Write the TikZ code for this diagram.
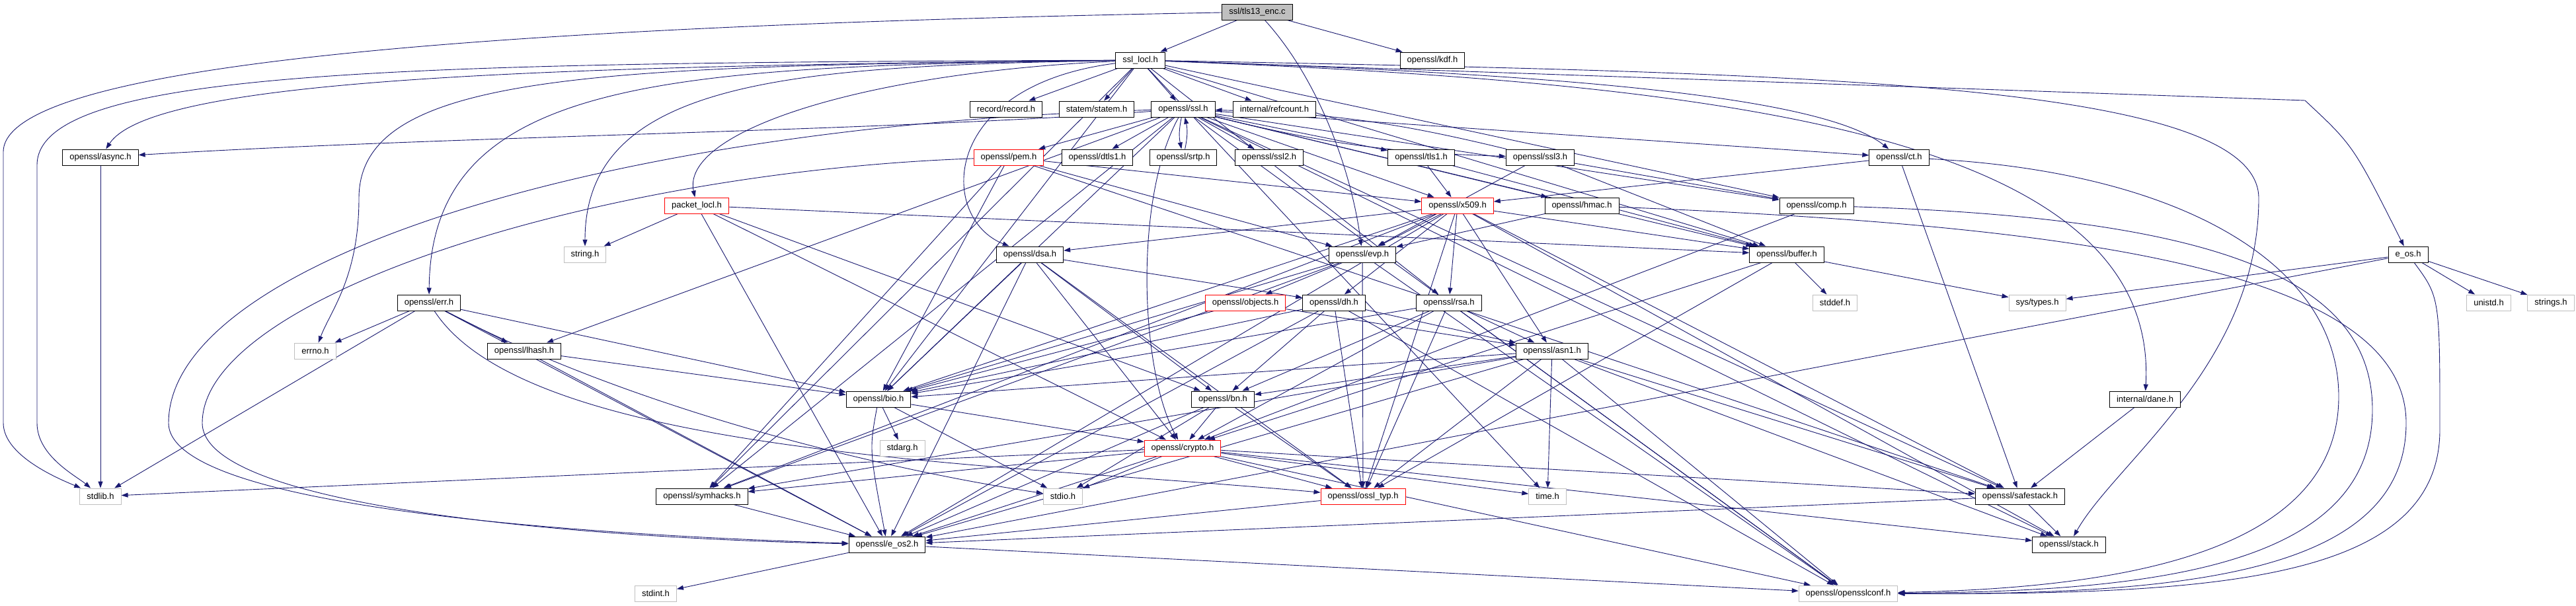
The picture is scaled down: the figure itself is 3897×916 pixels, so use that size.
\documentclass[tikz,border=0pt]{standalone}
\usepackage{fontspec}
\setmainfont{Liberation Sans}
\usepackage{xcolor}
\usepackage{tikz}
\usetikzlibrary{arrows.meta,backgrounds}
\definecolor{EdgeBlue}{HTML}{191970}
\definecolor{SysGray}{HTML}{BFBFBF}
\definecolor{SrcGray}{HTML}{BFBFBF}
\definecolor{CutRed}{HTML}{FF0000}

\begin{document}
\begin{tikzpicture}[
  x=1pt, y=-1pt,
  hdrbox/.style={
    draw=black,
    fill=white,
    line width=1pt,
    minimum height=24pt,
    inner xsep=10.5pt,
    inner ysep=2pt,
    font=\fontsize{13}{15}\selectfont
  },
  cutbox/.style={hdrbox, draw=CutRed},
  sysbox/.style={hdrbox, draw=SysGray},
  srcbox/.style={hdrbox, fill=SrcGray},
  incl/.style={-{Triangle[length=10pt,width=7pt]}, line width=0.9pt, draw=EdgeBlue}
]
\useasboundingbox (0,0) rectangle (3897,916);
\node[srcbox] (tls) at (1902,18) {ssl/tls13\_enc.c};
\node[hdrbox] (locl) at (1725,91) {ssl\_locl.h};
\node[hdrbox] (kdf) at (2167,91) {openssl/kdf.h};
\node[hdrbox] (rec) at (1522,165) {record/record.h};
\node[hdrbox] (stm) at (1659,165) {statem/statem.h};
\node[hdrbox] (ssl) at (1790,165) {openssl/ssl.h};
\node[hdrbox] (refc) at (1928,165) {internal/refcount.h};
\node[hdrbox] (async) at (152,238) {openssl/async.h};
\node[cutbox] (pem) at (1526,238) {openssl/pem.h};
\node[hdrbox] (dtls) at (1660,238) {openssl/dtls1.h};
\node[hdrbox] (srtp) at (1790,238) {openssl/srtp.h};
\node[hdrbox] (sslii) at (1920,238) {openssl/ssl2.h};
\node[hdrbox] (tlsi) at (2150,238) {openssl/tls1.h};
\node[hdrbox] (sslv3) at (2330,238) {openssl/ssl3.h};
\node[hdrbox] (ct) at (2873,238) {openssl/ct.h};
\node[cutbox] (pkt) at (1054,311) {packet\_locl.h};
\node[cutbox] (xcert) at (2205,311) {openssl/x509.h};
\node[hdrbox] (hmac) at (2393,311) {openssl/hmac.h};
\node[hdrbox] (comp) at (2748,311) {openssl/comp.h};
\node[sysbox] (str) at (885,385) {string.h};
\node[hdrbox] (dsa) at (1558,385) {openssl/dsa.h};
\node[hdrbox] (evp) at (2061,385) {openssl/evp.h};
\node[hdrbox] (buf) at (2703,385) {openssl/buffer.h};
\node[hdrbox] (eos) at (3643,385) {e\_os.h};
\node[hdrbox] (err) at (649,458) {openssl/err.h};
\node[cutbox] (obj) at (1884,458) {openssl/objects.h};
\node[hdrbox] (dh) at (2018,458) {openssl/dh.h};
\node[hdrbox] (rsa) at (2192,458) {openssl/rsa.h};
\node[sysbox] (stddef) at (2776,458) {stddef.h};
\node[sysbox] (systy) at (3082,458) {sys/types.h};
\node[sysbox] (unistd) at (3765,458) {unistd.h};
\node[sysbox] (strs) at (3859,458) {strings.h};
\node[sysbox] (errno) at (477,531) {errno.h};
\node[hdrbox] (lhash) at (793,531) {openssl/lhash.h};
\node[hdrbox] (asn) at (2348,531) {openssl/asn1.h};
\node[hdrbox] (bio) at (1329,604) {openssl/bio.h};
\node[hdrbox] (bn) at (1850,604) {openssl/bn.h};
\node[hdrbox] (dane) at (3245,604) {internal/dane.h};
\node[sysbox] (stdarg) at (1365,678) {stdarg.h};
\node[cutbox] (crypto) at (1789,678) {openssl/crypto.h};
\node[sysbox] (stdlib) at (152,751) {stdlib.h};
\node[hdrbox] (symh) at (1062,751) {openssl/symhacks.h};
\node[sysbox] (stdio) at (1608,751) {stdio.h};
\node[cutbox] (otyp) at (2062,751) {openssl/ossl\_typ.h};
\node[sysbox] (time) at (2341,751) {time.h};
\node[hdrbox] (safe) at (3056,751) {openssl/safestack.h};
\node[hdrbox] (eostwo) at (1342,824) {openssl/e\_os2.h};
\node[hdrbox] (stack) at (3130,824) {openssl/stack.h};
\node[sysbox] (stdint) at (992,898) {stdint.h};
\node[sysbox] (conf) at (2796,898) {openssl/opensslconf.h};
\begin{scope}[on background layer]
\fill[white] (0,0) rectangle (3897,916);
\draw[incl] (tls) -- (locl);
\draw[incl] (tls) -- (kdf);
\draw[incl] (tls) .. controls (1995,120) and (2045,260) .. (evp);
\draw[incl] (tls) .. controls (700,40) and (5,100) .. (5,230) -- (5,640) .. controls (5,690) and (90,725) .. (stdlib);
\draw[incl] (locl) -- (rec);
\draw[incl] (locl) -- (stm);
\draw[incl] (locl) -- (ssl);
\draw[incl] (locl) -- (refc);
\draw[incl] (locl) .. controls (800,100) and (230,120) .. (async);
\draw[incl] (locl) .. controls (600,95) and (56,105) .. (56,250) -- (56,640) .. controls (56,690) and (115,720) .. (stdlib);
\draw[incl] (locl) .. controls (900,100) and (543,110) .. (543,300) .. controls (543,420) and (500,470) .. (errno);
\draw[incl] (locl) .. controls (1000,100) and (652,120) .. (err);
\draw[incl] (locl) .. controls (1200,100) and (885,120) .. (str);
\draw[incl] (locl) .. controls (1300,110) and (1030,200) .. (pkt);
\draw[incl] (locl) -- (bio);
\draw[incl] (locl) -- (symh);
\draw[incl] (locl) .. controls (1420,130) and (1420,330) .. (dsa);
\draw[incl] (locl) -- (rsa);
\draw[incl] (locl) -- (time);
\draw[incl] (locl) -- (buf);
\draw[incl] (locl) -- (comp);
\draw[incl] (locl) .. controls (2300,110) and (2750,140) .. (ct);
\draw[incl] (locl) .. controls (2700,110) and (3417,120) .. (3417,300) .. controls (3417,550) and (3200,700) .. (stack);
\draw[incl] (locl) -- (3487,152) .. controls (3560,220) .. (eos);
\draw[incl] (locl) .. controls (2600,125) and (3267,200) .. (dane);
\draw[incl] (ssl) .. controls (900,190) and (255,400) .. (255,640) .. controls (255,770) and (900,810) .. (eostwo);
\draw[incl] (ssl) -- (conf);
\draw[incl] (ssl) -- (comp);
\draw[incl] (ssl) -- (bio);
\draw[incl] (ssl) -- (xcert);
\draw[incl] (ssl) -- (stack);
\draw[incl] (ssl) -- (lhash);
\draw[incl] (ssl) -- (pem);
\draw[incl] (ssl) -- (hmac);
\draw[incl] (ssl) .. controls (1300,200) and (700,205) .. (async);
\draw[incl] (ssl) -- (safe);
\draw[incl] (ssl) -- (symh);
\draw[incl] (ssl) -- (ct);
\draw[incl] (ssl) -- (sslii);
\draw[incl] (ssl) to[bend right=6] (sslv3);
\draw[incl] (ssl) -- (tlsi);
\draw[incl] (ssl) -- (dtls);
\draw[incl] (ssl) to[bend right=12] (srtp);
\draw[incl] (ssl) -- (buf);
\draw[incl] (ssl) .. controls (1715,300) and (1725,560) .. (crypto);
\draw[incl] (srtp) to[bend right=12] (ssl);
\draw[incl] (sslv3) to[bend right=6] (ssl);
\draw[incl] (sslv3) -- (comp);
\draw[incl] (sslv3) -- (buf);
\draw[incl] (sslv3) -- (evp);
\draw[incl] (tlsi) -- (buf);
\draw[incl] (tlsi) -- (xcert);
\draw[incl] (pem) .. controls (900,260) and (306,450) .. (306,640) .. controls (306,770) and (900,815) .. (eostwo);
\draw[incl] (pem) -- (bio);
\draw[incl] (pem) -- (safe);
\draw[incl] (pem) -- (evp);
\draw[incl] (pem) -- (xcert);
\draw[incl] (pem) -- (symh);
\draw[incl] (ct) -- (xcert);
\draw[incl] (ct) -- (safe);
\draw[incl] (ct) .. controls (3300,260) and (3538,400) .. (3538,600) .. controls (3538,840) and (3200,890) .. (conf);
\draw[incl] (comp) -- (crypto);
\draw[incl] (comp) .. controls (3350,330) and (3589,420) .. (3589,620) .. controls (3589,860) and (3250,895) .. (conf);
\draw[incl] (hmac) -- (evp);
\draw[incl] (hmac) .. controls (3100,340) and (3640,400) .. (3640,640) .. controls (3640,870) and (3300,900) .. (conf);
\draw[incl] (eos) -- (systy);
\draw[incl] (eos) -- (unistd);
\draw[incl] (eos) -- (strs);
\draw[incl] (eos) -- (eostwo);
\draw[incl] (eos) .. controls (3691,450) .. (3691,650) .. controls (3691,880) and (3350,900) .. (conf);
\draw[incl] (pkt) -- (str);
\draw[incl] (pkt) -- (bn);
\draw[incl] (pkt) -- (buf);
\draw[incl] (pkt) -- (crypto);
\draw[incl] (pkt) -- (eostwo);
\draw[incl] (xcert) -- (eostwo);
\draw[incl] (xcert) -- (otyp);
\draw[incl] (xcert) -- (symh);
\draw[incl] (xcert) -- (buf);
\draw[incl] (xcert) -- (evp);
\draw[incl] (xcert) -- (bio);
\draw[incl] (xcert) -- (stack);
\draw[incl] (xcert) -- (asn);
\draw[incl] (xcert) -- (safe);
\draw[incl] (xcert) -- (rsa);
\draw[incl] (xcert) -- (dsa);
\draw[incl] (xcert) -- (dh);
\draw[incl] (evp) -- (conf);
\draw[incl] (evp) -- (otyp);
\draw[incl] (evp) -- (symh);
\draw[incl] (evp) -- (bio);
\draw[incl] (evp) -- (obj);
\draw[incl] (dsa) -- (eostwo);
\draw[incl] (dsa) -- (bio);
\draw[incl] (dsa) -- (crypto);
\draw[incl] (dsa) -- (otyp);
\draw[incl] (dsa) -- (bn);
\draw[incl] (dsa) -- (dh);
\draw[incl] (dh) -- (eostwo);
\draw[incl] (dh) -- (bio);
\draw[incl] (dh) -- (asn);
\draw[incl] (dh) -- (otyp);
\draw[incl] (dh) -- (bn);
\draw[incl] (dh) -- (conf);
\draw[incl] (rsa) -- (conf);
\draw[incl] (rsa) -- (asn);
\draw[incl] (rsa) -- (bio);
\draw[incl] (rsa) -- (crypto);
\draw[incl] (rsa) -- (otyp);
\draw[incl] (rsa) -- (bn);
\draw[incl] (obj) -- (bio);
\draw[incl] (obj) -- (asn);
\draw[incl] (asn) -- (time);
\draw[incl] (asn) -- (eostwo);
\draw[incl] (asn) -- (conf);
\draw[incl] (asn) -- (bio);
\draw[incl] (asn) -- (stack);
\draw[incl] (asn) -- (safe);
\draw[incl] (asn) -- (symh);
\draw[incl] (asn) -- (otyp);
\draw[incl] (asn) -- (bn);
\draw[incl] (bn) -- (eostwo);
\draw[incl] (bn) -- (stdio);
\draw[incl] (bn) -- (otyp);
\draw[incl] (bn) -- (crypto);
\draw[incl] (bio) .. controls (1315,680) .. (eostwo);
\draw[incl] (bio) -- (stdio);
\draw[incl] (bio) -- (stdarg);
\draw[incl] (bio) -- (crypto);
\draw[incl] (crypto) -- (stdlib);
\draw[incl] (crypto) -- (time);
\draw[incl] (crypto) -- (eostwo);
\draw[incl] (crypto) -- (stdio);
\draw[incl] (crypto) -- (stack);
\draw[incl] (crypto) -- (safe);
\draw[incl] (crypto) -- (otyp);
\draw[incl] (crypto) -- (conf);
\draw[incl] (crypto) -- (symh);
\draw[incl] (err) -- (eostwo);
\draw[incl] (err) .. controls (1000,640) and (1400,720) .. (stdio);
\draw[incl] (err) -- (stdlib);
\draw[incl] (err) .. controls (800,690) and (1500,700) .. (otyp);
\draw[incl] (err) -- (bio);
\draw[incl] (err) -- (lhash);
\draw[incl] (err) -- (errno);
\draw[incl] (lhash) -- (eostwo);
\draw[incl] (lhash) -- (bio);
\draw[incl] (symh) -- (eostwo);
\draw[incl] (safe) -- (stack);
\draw[incl] (safe) -- (eostwo);
\draw[incl] (otyp) -- (eostwo);
\draw[incl] (eostwo) -- (conf);
\draw[incl] (eostwo) -- (stdint);
\draw[incl] (buf) -- (otyp);
\draw[incl] (buf) -- (stddef);
\draw[incl] (buf) -- (systy);
\draw[incl] (buf) -- (crypto);
\draw[incl] (async) -- (stdlib);
\draw[incl] (dane) -- (safe);
\end{scope}
\end{tikzpicture}
\end{document}
